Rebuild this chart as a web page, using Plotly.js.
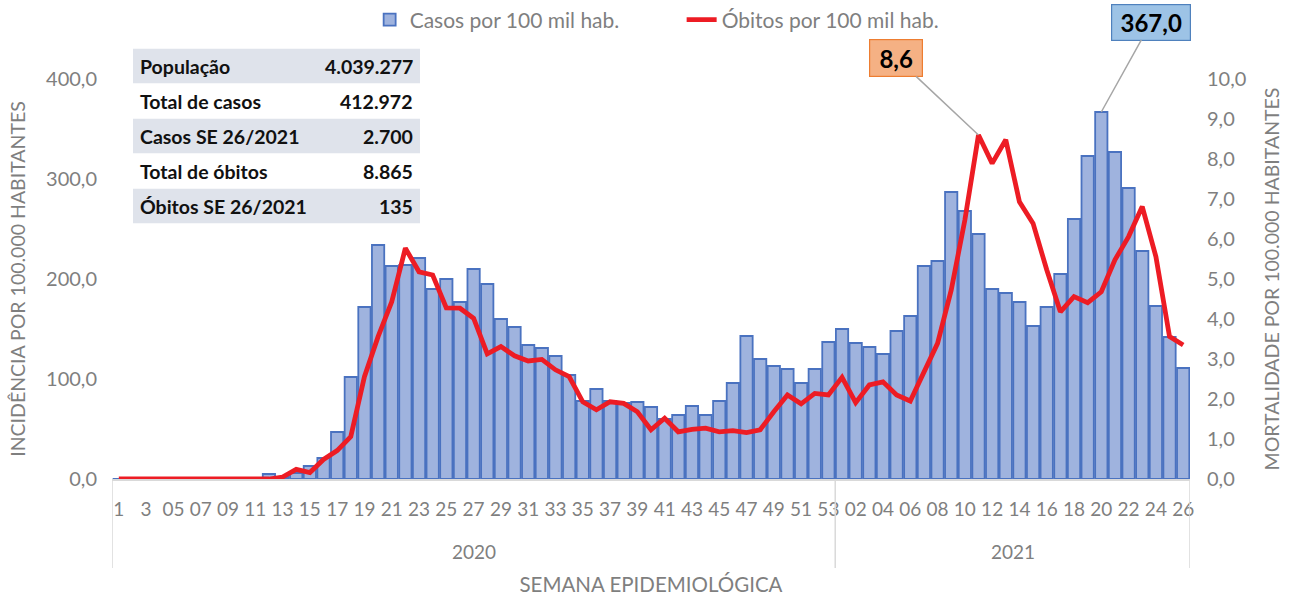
<!DOCTYPE html>
<html>
<head>
<meta charset="utf-8">
<script src="https://cdn.plot.ly/plotly-3.0.1.min.js"></script>
<style>html,body{margin:0;padding:0;background:#fff;}#chart{width:1292px;height:596px;}</style>
</head>
<body>
<div id="chart"></div>
<script>
// ---- data ----
const years = ["2020", "2021"];
const weekLabels2020 = ["1","2","3","04","05","06","07","08","09","10","11","12","13","14","15","16","17","18","19","20","21","22","23","24","25","26","27","28","29","30","31","32","33","34","35","36","37","38","39","40","41","42","43","44","45","46","47","48","49","50","51","52","53"];
const weekLabels2021 = ["01","02","03","04","05","06","07","08","09","10","11","12","13","14","15","16","17","18","19","20","21","22","23","24","25","26"];
const cases2020 = [0,0,0,0,0,0,0,0,0,0,0,5,2,6,13,21,47,102,172,234,213,214,221,190,200,177,210,195,160,152,134,131,123,104,78,90,78,76,77,72,60,64,73,64,78,96,143,120,113,110,96,110,137];
const cases2021 = [150,136,132,125,148,163,213,218,287,268,245,190,186,177,153,172,205,260,323,367,327,291,228,173,142,111];
const deaths2020 = [0,0,0,0,0,0,0,0,0,0,0,0,0.05,0.24,0.16,0.49,0.71,1.06,2.56,3.56,4.43,5.77,5.18,5.1,4.28,4.27,4.02,3.13,3.31,3.08,2.95,2.99,2.73,2.56,1.93,1.73,1.93,1.89,1.68,1.23,1.52,1.18,1.24,1.27,1.18,1.21,1.16,1.23,1.68,2.1,1.88,2.14,2.1];
const deaths2021 = [2.54,1.91,2.35,2.43,2.1,1.95,2.7,3.39,4.72,6.47,8.6,7.89,8.48,6.93,6.39,5.23,4.18,4.56,4.41,4.68,5.48,6.06,6.81,5.56,3.56,3.35];
const tableLabels = ["População","Total de casos","Casos SE 26/2021","Total de óbitos","Óbitos SE 26/2021"];
const tableValues = ["4.039.277","412.972","2.700","8.865","135"];
const seriesNames = ["Casos por 100 mil hab.","Óbitos por 100 mil hab."];

// ---- build ----
const keys = [], tickText = [];
weekLabels2020.forEach(w => { keys.push(years[0] + "-" + w); tickText.push(w); });
weekLabels2021.forEach(w => { keys.push(years[1] + "-" + w); tickText.push(w); });
const cases = cases2020.concat(cases2021);
const deaths = deaths2020.concat(deaths2021);
const tickvals = keys.filter((k, i) => i % 2 === 0);
const ticktxt = tickText.filter((k, i) => i % 2 === 0);

const gray = "#7f7f7f";
const FONT = "Lato, 'Open Sans', sans-serif";

const traces = [
  { type: "bar", x: keys, y: cases, name: seriesNames[0], yaxis: "y",
    marker: { color: "#9fb3de", line: { color: "#4a72c0", width: 1.8 } } },
  { type: "scatter", mode: "lines", x: keys, y: deaths, name: seriesNames[1], yaxis: "y2",
    line: { color: "#ed1c24", width: 4.8 } }
];

const fmt = (v, d) => v.toFixed(d).replace(".", ",");
const iMaxD = deaths.indexOf(Math.max(...deaths));
const iMaxC = cases.indexOf(Math.max(...cases));

const shapes = [];
const annotations = [];
// year dividers
const n2020 = weekLabels2020.length, nAll = keys.length;
[-0.5, n2020 - 0.5, nAll - 0.5].forEach(xv => {
  shapes.push({ type: "line", xref: "x", yref: "paper", x0: xv, x1: xv, y0: 0, y1: -0.2225,
    line: { color: "#d9d9d9", width: 1.5 } });
});
annotations.push({ xref: "x", yref: "paper", x: (n2020 - 1) / 2, y: -0.18, yanchor: "middle", text: years[0], showarrow: false,
  font: { family: FONT, size: 19, color: gray } });
annotations.push({ xref: "x", yref: "paper", x: (n2020 + nAll - 1) / 2, y: -0.18, yanchor: "middle", text: years[1], showarrow: false,
  font: { family: FONT, size: 19, color: gray } });

// info table
const rowCenters = [1.0325, 0.945, 0.8575, 0.77, 0.6825];
tableLabels.forEach((lab, i) => {
  if (i % 2 === 0) {
    shapes.push({ type: "rect", xref: "paper", yref: "paper", x0: 0.0195, x1: 0.2857,
      y0: rowCenters[i] - 0.043, y1: rowCenters[i] + 0.043, fillcolor: "#dfe3eb", line: { width: 0 } });
  }
  annotations.push({ xref: "paper", yref: "paper", x: 0.0241, y: rowCenters[i], xanchor: "left", yanchor: "middle",
    text: "<b>" + lab + "</b>", showarrow: false, font: { family: FONT, size: 19.5, color: "#111" } });
  annotations.push({ xref: "paper", yref: "paper", x: 0.2811, y: rowCenters[i], xanchor: "right", yanchor: "middle",
    text: "<b>" + tableValues[i] + "</b>", showarrow: false, font: { family: FONT, size: 19.5, color: "#111" } });
});

// callouts
annotations.push({ xref: "x", yref: "y2", x: keys[iMaxD], y: deaths[iMaxD], text: "<b>" + fmt(deaths[iMaxD], 1) + "</b>",
  showarrow: true, arrowhead: 0, arrowwidth: 1.5, arrowcolor: "#a6a6a6", ax: -82, ay: -77,
  bgcolor: "#f5b184", bordercolor: "#ed7d31", borderwidth: 1.2, borderpad: 2, width: 48, height: 32,
  font: { family: FONT, size: 24, color: "#000" } });
annotations.push({ xref: "x", yref: "y", x: keys[iMaxC], y: cases[iMaxC], text: "<b>" + fmt(cases[iMaxC], 1) + "</b>",
  showarrow: true, arrowhead: 0, arrowwidth: 1.5, arrowcolor: "#a6a6a6", ax: 50, ay: -90,
  bgcolor: "#9dc3e6", bordercolor: "#4f81bd", borderwidth: 1.2, borderpad: 2, width: 74, height: 31,
  font: { family: FONT, size: 24, color: "#000" } });

const layout = {
  width: 1292, height: 596,
  margin: { l: 112, r: 102, t: 79, b: 117, autoexpand: false },
  paper_bgcolor: "#fff", plot_bgcolor: "#fff",
  separators: ",.",
  bargap: 0.1,
  font: { family: FONT, color: gray, size: 16 },
  showlegend: true,
  legend: { orientation: "h", x: 0.239, xanchor: "left", y: 1.1475, yanchor: "middle",
    font: { family: FONT, size: 21, color: gray }, bgcolor: "rgba(0,0,0,0)", entrywidth: 267, entrywidthmode: "pixels" },
  xaxis: { type: "category", range: [-0.5, nAll - 0.5], tickvals: tickvals, ticktext: ticktxt, tickangle: 0,
    showgrid: false, zeroline: false, showline: true, linecolor: "#d9d9d9", linewidth: 1.5, ticks: "",
    ticklabelstandoff: 12, tickfont: { family: FONT, size: 19, color: gray },
    title: { text: "SEMANA EPIDEMIOLÓGICA", font: { family: FONT, size: 20.5, color: gray }, standoff: 62 } },
  yaxis: { range: [0, 400], tickvals: [0, 100, 200, 300, 400], tickformat: ".1f", showgrid: false, zeroline: false,
    showline: false, ticks: "", ticklabelstandoff: 14, tickfont: { family: FONT, size: 20, color: gray },
    title: { text: "INCIDÊNCIA POR 100.000 HABITANTES", font: { family: FONT, size: 19.5, color: gray }, standoff: 15 } },
  yaxis2: { overlaying: "y", side: "right", range: [0, 10], dtick: 1, tickformat: ".1f", showgrid: false, zeroline: false,
    showline: false, ticks: "", ticklabelstandoff: 16, tickfont: { family: FONT, size: 20, color: gray },
    title: { text: "MORTALIDADE POR 100.000 HABITANTES", font: { family: FONT, size: 19.5, color: gray }, standoff: 20 } },
  shapes: shapes,
  annotations: annotations
};

Plotly.newPlot("chart", traces, layout, { displayModeBar: false, responsive: false });
</script>
</body>
</html>
